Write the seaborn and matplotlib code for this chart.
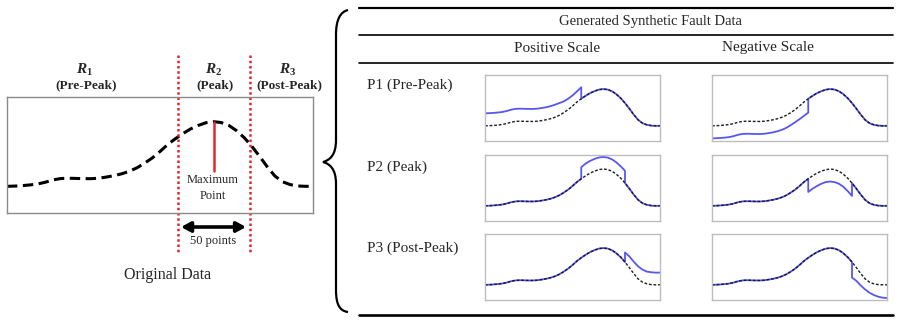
import matplotlib
matplotlib.use("Agg")
import matplotlib.pyplot as plt
import seaborn as sns
import numpy as np
from matplotlib.path import Path
from matplotlib.patches import PathPatch
from matplotlib.lines import Line2D

# ---------------- data ----------------
base_curve = [0.23, 0.232, 0.236, 0.242, 0.25, 0.265, 0.285, 0.297, 0.30, 0.298,
              0.296, 0.296, 0.30, 0.31, 0.322, 0.338, 0.36, 0.39, 0.43, 0.475,
              0.53, 0.59, 0.64, 0.685, 0.725, 0.755, 0.778, 0.787, 0.78, 0.755,
              0.71, 0.65, 0.575, 0.49, 0.40, 0.32, 0.27, 0.245, 0.233, 0.23, 0.23]
region_bounds = [22.4, 31.7]           # R1|R2 and R2|R3 boundaries (sample index)
fault_regions = {"P1": (0, 22), "P2": (22, 32), "P3": (32, 40)}

p1_pos = [0.42, 0.422, 0.426, 0.432, 0.44, 0.455, 0.475, 0.487, 0.49, 0.488, 0.486,
          0.486, 0.49, 0.50, 0.512, 0.528, 0.55, 0.575, 0.60, 0.64, 0.69, 0.75, 0.815]
p1_neg = [0.04, 0.042, 0.046, 0.052, 0.06, 0.075, 0.095, 0.107, 0.11, 0.108, 0.106,
          0.106, 0.11, 0.12, 0.132, 0.148, 0.17, 0.20, 0.24, 0.285, 0.33, 0.38, 0.43]
p2_pos = [0.815, 0.87, 0.91, 0.94, 0.962, 0.97, 0.962, 0.935, 0.89, 0.83, 0.76]
p2_neg = [0.44, 0.49, 0.53, 0.565, 0.59, 0.598, 0.59, 0.565, 0.52, 0.455, 0.38]
p3_pos = [0.72, 0.66, 0.58, 0.51, 0.46, 0.43, 0.42, 0.415, 0.415]
p3_neg = [0.34, 0.29, 0.22, 0.16, 0.11, 0.075, 0.05, 0.035, 0.03]

row_labels = ["P1 (Pre-Peak)", "P2 (Peak)", "P3 (Post-Peak)"]
col_labels = ["Positive Scale", "Negative Scale"]
region_names = [r"$\mathbfit{R}_{\mathbf{1}}$", r"$\mathbfit{R}_{\mathbf{2}}$", r"$\mathbfit{R}_{\mathbf{3}}$"]
region_desc = ["(Pre-Peak)", "(Peak)", "(Post-Peak)"]

# ---------------- style ----------------
sns.set_style("white")
SERIF = "Liberation Serif"
plt.rcParams["font.family"] = [SERIF, "DejaVu Serif"]
plt.rcParams["mathtext.fontset"] = "custom"
plt.rcParams["mathtext.rm"] = SERIF
plt.rcParams["mathtext.it"] = SERIF + ":italic"
plt.rcParams["mathtext.bf"] = SERIF + ":bold"
plt.rcParams["mathtext.bfit"] = SERIF + ":italic:bold"

W, H = 900, 325
fig = plt.figure(figsize=(9, 3.25), dpi=100)
fig.patch.set_facecolor("white")


def fx(px):
    return px / W


def fy(py):
    return 1 - py / H


def rect(x0, y0, x1, y1):
    return [fx(x0), fy(y1), (x1 - x0) / W, (y1 - y0) / H]


idx = list(range(len(base_curve)))
BLUE = "#5757f0"

# ---------------- left panel ----------------
axL = fig.add_axes(rect(7, 97, 313, 213))
sns.lineplot(x=idx, y=base_curve, ax=axL, color="black", lw=2.2,
             linestyle=(0, (3.4, 1.8)), estimator=None, sort=False)
axL.set_xlim(0, 40)
axL.set_ylim(0, 1)
axL.set_xticks([])
axL.set_yticks([])
axL.set_xlabel("")
axL.set_ylabel("")
for s in axL.spines.values():
    s.set_color("#8a8a8a")
    s.set_linewidth(1.0)

def ydata(py):
    return (213 - py) / 116

for b in region_bounds:
    axL.plot([b, b], [ydata(55), ydata(252)], color="#e3262b", lw=1.8,
             linestyle=(0, (1, 1.1)), clip_on=False)

peak_i = int(np.argmax(base_curve))
axL.plot([peak_i, peak_i], [base_curve[peak_i], ydata(171)], color="#e3262b", lw=1.8)
axL.annotate("", xy=(region_bounds[1] - 0.45, ydata(227)),
             xytext=(region_bounds[0] + 0.35, ydata(227)),
             arrowprops=dict(arrowstyle="<|-|>,head_length=0.55,head_width=0.3",
                             lw=2.6, color="black", shrinkA=0, shrinkB=0),
             annotation_clip=False)

fig.text(fx(213), fy(180), "Maximum", ha="center", va="center", fontsize=9)
fig.text(fx(213), fy(196), "Point", ha="center", va="center", fontsize=9)
fig.text(fx(213), fy(241), "50 points", ha="center", va="center", fontsize=9)
fig.text(fx(168), fy(275), "Original Data", ha="center", va="center", fontsize=11.5)

for (cx, name, desc) in zip([85, 214, 288], region_names, region_desc):
    fig.text(fx(cx), fy(70), name, ha="center", va="center", fontsize=11)
    fig.text(fx(cx + 1), fy(85), desc, ha="center", va="center", fontsize=9.5,
             fontweight="bold")

# ---------------- brace ----------------
verts = [(348, 10), (340, 12), (336, 20), (336, 35),
         (336, 140),
         (336, 155), (330, 160), (323, 162),
         (330, 164), (336, 169), (336, 184),
         (336, 290),
         (336, 305), (340, 311), (348, 312)]
codes = [Path.MOVETO, Path.CURVE4, Path.CURVE4, Path.CURVE4,
         Path.LINETO,
         Path.CURVE4, Path.CURVE4, Path.CURVE4,
         Path.CURVE4, Path.CURVE4, Path.CURVE4,
         Path.LINETO,
         Path.CURVE4, Path.CURVE4, Path.CURVE4]
brace = PathPatch(Path([(fx(a), fy(b)) for a, b in verts], codes),
                  transform=fig.transFigure, fill=False, lw=1.6, edgecolor="black")
fig.add_artist(brace)

# ---------------- table rules ----------------
for py, lw in [(8, 1.6), (35, 1.2), (63, 1.2), (315, 1.9)]:
    fig.add_artist(Line2D([fx(359), fx(893)], [fy(py), fy(py)], color="black",
                          lw=lw, transform=fig.transFigure))

fig.text(fx(650), fy(21), "Generated Synthetic Fault Data", ha="center", va="center", fontsize=10.5)
fig.text(fx(557), fy(49), col_labels[0], ha="center", va="center", fontsize=11)
fig.text(fx(768), fy(48), col_labels[1], ha="center", va="center", fontsize=11)

row_y = [(75, 141), (155, 221), (234, 300)]
row_text_y = [85, 167, 248]
col_x = [(485, 660), (712, 887)]
faults = {("P1", 0): p1_pos, ("P1", 1): p1_neg,
          ("P2", 0): p2_pos, ("P2", 1): p2_neg,
          ("P3", 0): p3_pos, ("P3", 1): p3_neg}


def faulted(seg, a, b):
    xs, ys = [], []
    if a > 0:
        xs += idx[:a + 1]
        ys += base_curve[:a + 1]
    xs += idx[a:b + 1]
    ys += list(seg)
    if b < idx[-1]:
        xs += idx[b:]
        ys += base_curve[b:]
    return xs, ys


for r, key in enumerate(["P1", "P2", "P3"]):
    fig.text(fx(367), fy(row_text_y[r]), row_labels[r], ha="left", va="center", fontsize=11)
    a, b = fault_regions[key]
    for c in range(2):
        ax = fig.add_axes(rect(col_x[c][0], row_y[r][0], col_x[c][1], row_y[r][1]))
        xs, ys = faulted(faults[(key, c)], a, b)
        sns.lineplot(x=xs, y=ys, ax=ax, color=BLUE, lw=1.3, estimator=None, sort=False)
        sns.lineplot(x=idx, y=base_curve, ax=ax, color="#1a1a2a", lw=1.0,
                     linestyle=(0, (2, 1.3)), estimator=None, sort=False)
        ax.set_xlim(0, 40)
        ax.set_ylim(0, 1)
        ax.set_xticks([])
        ax.set_yticks([])
        ax.set_xlabel("")
        ax.set_ylabel("")
        for s in ax.spines.values():
            s.set_color("#bdbdbd")
            s.set_linewidth(1.0)

fig.savefig("out.png", dpi=100, facecolor="white")
